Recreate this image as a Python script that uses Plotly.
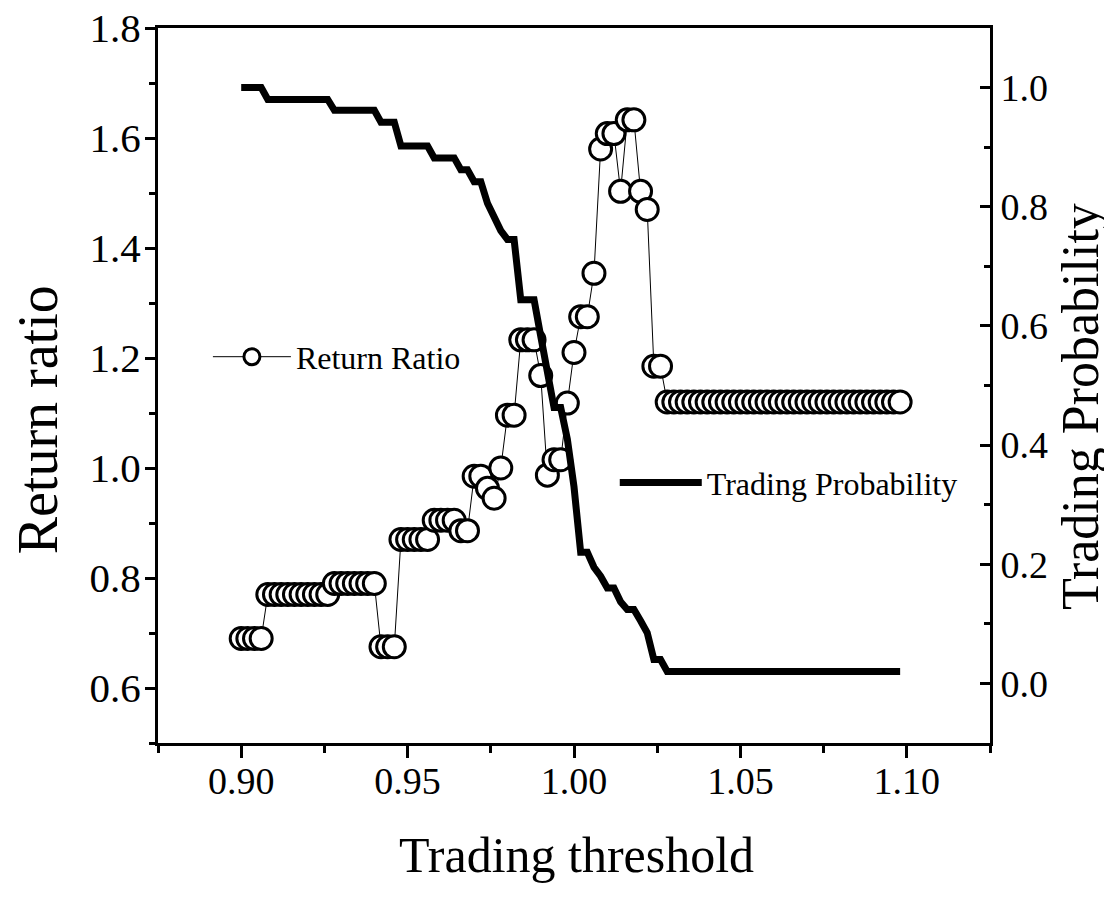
import plotly.graph_objects as go

# Trading threshold (x), step 0.002 from 0.900 to 1.098
threshold = [round(0.900 + 0.002 * i, 3) for i in range(100)]

return_ratio = (
    [0.69] * 4 + [0.77] * 10 + [0.79] * 7 + [0.675] * 3 + [0.87] * 5 + [0.905] * 4 +
    [0.886] * 2 + [0.985] * 2 + [0.963, 0.945, 1.0] + [1.096] * 2 + [1.233] * 3 +
    [1.168, 0.987] + [1.015] * 2 + [1.118, 1.21] + [1.275] * 2 + [1.354, 1.58] +
    [1.608] * 2 + [1.503] + [1.633] * 2 + [1.503, 1.47] + [1.185] * 2 + [1.12] * 36
)

trading_prob = (
    [1.0] * 4 + [0.98] * 10 + [0.962] * 7 + [0.942] * 3 + [0.902] * 5 + [0.882] * 4 +
    [0.862] * 2 + [0.842] * 2 + [0.806, 0.784, 0.76] + [0.745] * 2 + [0.644] * 3 +
    [0.583, 0.523] + [0.463] * 2 + [0.41, 0.33] + [0.22] * 2 + [0.195, 0.18] +
    [0.16] * 2 + [0.137] + [0.124] * 2 + [0.105, 0.085] + [0.04] * 2 + [0.02] * 36
)

x_tickvals = [0.90, 0.95, 1.00, 1.05, 1.10]
x_ticktext = ["0.90", "0.95", "1.00", "1.05", "1.10"]
y_tickvals = [0.6, 0.8, 1.0, 1.2, 1.4, 1.6, 1.8]
y_ticktext = ["0.6", "0.8", "1.0", "1.2", "1.4", "1.6", "1.8"]
y2_tickvals = [0.0, 0.2, 0.4, 0.6, 0.8, 1.0]
y2_ticktext = ["0.0", "0.2", "0.4", "0.6", "0.8", "1.0"]

FONT = "Liberation Serif"

fig = go.Figure()
fig.add_trace(go.Scatter(
    x=threshold, y=return_ratio, name="Return Ratio", mode="lines+markers",
    line=dict(color="black", width=1),
    marker=dict(symbol="circle", size=22, color="white", line=dict(color="black", width=3)),
    legend="legend", yaxis="y", showlegend=True,
))
fig.add_trace(go.Scatter(
    x=threshold, y=trading_prob, name="Trading Probability", mode="lines",
    line=dict(color="black", width=7),
    legend="legend2", yaxis="y2", showlegend=True,
))

fig.update_layout(
    width=1104, height=894,
    margin=dict(l=150, r=122, t=20, b=159),
    paper_bgcolor="white", plot_bgcolor="white",
    font=dict(family=FONT, color="black"),
    showlegend=True,
    xaxis=dict(
        range=[0.875, 1.125], tickvals=x_tickvals, ticktext=x_ticktext,
        ticks="outside", ticklen=12, tickwidth=2.5, tickcolor="black",
        minor=dict(tickvals=[0.875, 0.925, 0.975, 1.025, 1.075, 1.125], ticks="outside",
                   ticklen=7, tickwidth=2.5, tickcolor="black"),
        showline=True, linecolor="black", linewidth=3, mirror=True,
        showgrid=False, zeroline=False, tickfont=dict(size=38, family=FONT),
        ticklabelstandoff=-10, ticklabeloverflow="allow", automargin=False,
    ),
    yaxis=dict(
        range=[0.5, 1.8], tickvals=y_tickvals, ticktext=y_ticktext,
        ticks="outside", ticklen=10, tickwidth=2.5, tickcolor="black",
        minor=dict(tickvals=[0.5, 0.7, 0.9, 1.1, 1.3, 1.5, 1.7], ticks="outside",
                   ticklen=6, tickwidth=2.5, tickcolor="black"),
        showline=True, linecolor="black", linewidth=3,
        showgrid=False, zeroline=False, tickfont=dict(size=41, family=FONT),
        ticklabelstandoff=-4, ticklabeloverflow="allow", automargin=False,
    ),
    yaxis2=dict(
        range=[-0.1, 1.1], tickvals=y2_tickvals, ticktext=y2_ticktext,
        overlaying="y", side="right", anchor="x",
        ticks="inside", ticklen=10, tickwidth=2.5, tickcolor="black",
        minor=dict(tickvals=[-0.1, 0.1, 0.3, 0.5, 0.7, 0.9, 1.1], ticks="inside",
                   ticklen=6, tickwidth=2.5, tickcolor="black"),
        showline=True, linecolor="black", linewidth=3,
        showgrid=False, zeroline=False, tickfont=dict(size=38, family=FONT),
        ticklabeloverflow="allow", automargin=False,
    ),
    legend=dict(
        x=0.060, y=0.54, xanchor="left", yanchor="middle",
        bgcolor="rgba(0,0,0,0)", font=dict(size=32, family=FONT),
        itemwidth=78,
    ),
    legend2=dict(
        x=0.549, y=0.364, xanchor="left", yanchor="middle",
        bgcolor="rgba(0,0,0,0)", font=dict(size=32, family=FONT),
        itemwidth=82,
    ),
    annotations=[
        dict(text="Return ratio", xref="paper", yref="paper", x=-0.1448, y=0.452,
             xanchor="center", yanchor="middle", textangle=-90, showarrow=False,
             font=dict(size=56, family=FONT)),
        dict(text="Trading Probability", xref="paper", yref="paper", x=1.1095, y=0.470,
             xanchor="center", yanchor="middle", textangle=-90, showarrow=False,
             font=dict(size=52, family=FONT)),
        dict(text="Trading threshold", xref="paper", yref="paper", x=0.5036, y=-0.1566,
             xanchor="center", yanchor="middle", showarrow=False,
             font=dict(size=50, family=FONT)),
    ],
)

fig.write_html("out.html")
